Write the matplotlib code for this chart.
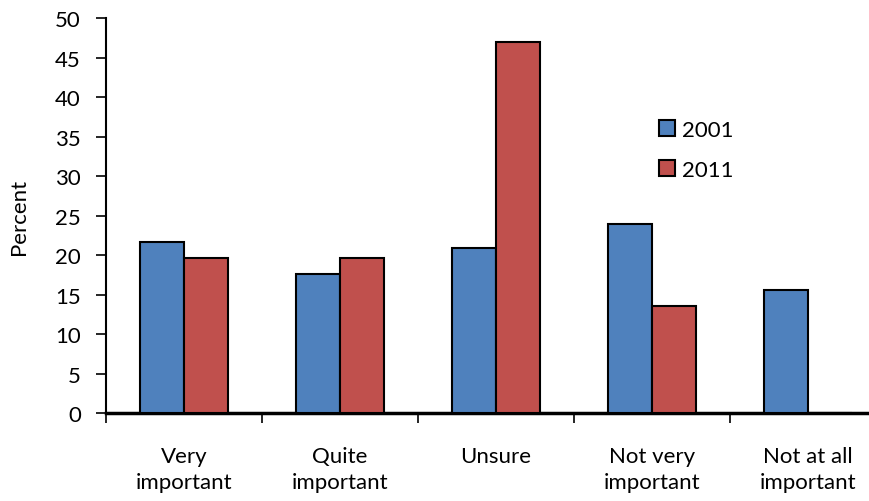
import matplotlib.pyplot as plt
import numpy as np
from matplotlib.patches import Patch

# survey responses, percent of respondents
categories = ['Very\nimportant', 'Quite\nimportant', 'Unsure',
              'Not very\nimportant', 'Not at all\nimportant']
pct_2001 = [21.7, 17.6, 20.9, 24.0, 15.6]
pct_2011 = [19.6, 19.6, 47.0, 13.6, 0.0]

blue = '#4F81BD'
red = '#C0504D'
fs = 16

plt.rcParams['font.family'] = ['Lato', 'DejaVu Sans']

fig = plt.figure(figsize=(8.7, 5.02), dpi=100)
ax = fig.add_axes([106 / 870, 88 / 502, 780 / 870, 394.7 / 502])

x = np.arange(len(categories))
w = 0.283
ax.bar(x - w / 2, pct_2001, width=w, color=blue, edgecolor='black', linewidth=1.5, zorder=3)
ax.bar(x + w / 2, pct_2011, width=w, color=red, edgecolor='black', linewidth=1.5, zorder=3)

ax.set_xlim(-0.5, len(categories) - 0.5)
ax.set_ylim(0, 50)
ax.set_yticks(range(0, 51, 5))
# boundary ticks between categories, labels centred on the minor ticks
ax.set_xticks(np.arange(len(categories) + 1) - 0.5)
ax.set_xticklabels([])
ax.set_xticks(x, minor=True)
ax.set_xticklabels(categories, minor=True, fontsize=fs, linespacing=1.37, va='top')
ax.tick_params(axis='x', which='minor', length=0, pad=24)
ax.tick_params(axis='x', which='major', direction='out', length=7, width=1.2)
ax.tick_params(axis='y', direction='out', length=7, width=1.2, labelsize=fs, pad=11)

for s in ['top', 'right']:
    ax.spines[s].set_visible(False)
ax.spines['left'].set_linewidth(1.5)
ax.spines['bottom'].set_linewidth(2.5)

ax.set_ylabel('Percent', fontsize=fs, labelpad=19)

handles = [Patch(facecolor=blue, edgecolor='black', linewidth=1.5, label='2001'),
           Patch(facecolor=red, edgecolor='black', linewidth=1.5, label='2011')]
fig.legend(handles=handles, loc='upper left', bbox_to_anchor=(659 / 870, 1 - 121 / 502),
           frameon=False, fontsize=fs, handlelength=0.7, handleheight=0.7,
           handletextpad=0.35, labelspacing=0.9, borderpad=0, borderaxespad=0)

fig.savefig('out.png', dpi=100)
